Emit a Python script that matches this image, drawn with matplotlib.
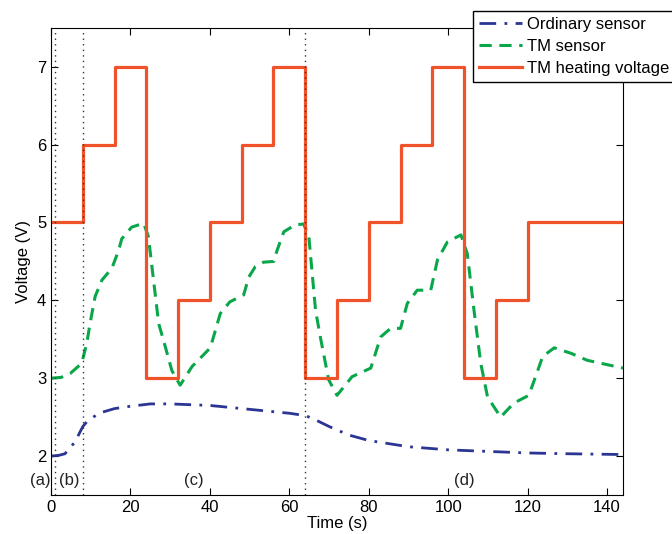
import matplotlib
matplotlib.use("Agg")
import matplotlib.pyplot as plt

plt.rcParams['font.family'] = ['Liberation Sans', 'DejaVu Sans']

# TM heating voltage (step levels, each held 8 s)
step_t = [0, 8, 16, 24, 32, 40, 48, 56, 64, 72, 80, 88, 96, 104, 112, 120, 144]
step_v = [5, 6, 7, 3, 4, 5, 6, 7, 3, 4, 5, 6, 7, 3, 4, 5, 5]

# TM sensor
tm_t = [0, 2.5, 4.8, 7.7, 9, 9.8, 11.1, 12.8, 15.3, 17, 17.8, 20.3, 23.3, 24.5, 25.8,
        27.1, 28.3, 30.4, 32.5, 35.5, 40.1, 42.6, 45, 48.5, 49.8, 51.4, 53.5, 56.1,
        56.9, 58.6, 61.5, 63.6, 64.9, 66.6, 67.8, 69.9, 72,
        75.8, 80.5, 83, 85.5, 88, 89.7, 92.2, 95.6, 97.3, 99.8, 103.2, 104.8, 106.5,
        108.2, 109.9, 113.2, 116.5, 120.3, 122, 123.8, 126.7, 130.9, 135, 142.2, 144]
tm_v = [3.0, 3.01, 3.06, 3.19, 3.45, 3.7, 4.05, 4.26, 4.41, 4.64, 4.79, 4.94, 4.99, 4.82, 4.26,
        3.7, 3.49, 3.1, 2.91, 3.15, 3.39, 3.83, 3.98, 4.07, 4.3, 4.43, 4.49, 4.5,
        4.64, 4.88, 4.97, 4.98, 4.82, 3.87, 3.53, 2.98, 2.78,
        3.02, 3.13, 3.53, 3.64, 3.64, 3.96, 4.13, 4.13, 4.52, 4.75, 4.84, 4.6, 3.87,
        3.19, 2.76, 2.5, 2.68, 2.78, 3.02, 3.28, 3.39, 3.32, 3.23, 3.15, 3.13]

# Ordinary sensor
ord_t = [0, 2, 3.5, 6, 8, 9, 12, 16, 20, 25, 30, 40, 50, 60, 64, 66, 70, 75, 80, 90,
         100, 110, 120, 130, 144]
ord_v = [2.0, 2.01, 2.03, 2.18, 2.38, 2.44, 2.55, 2.61, 2.64, 2.67, 2.67, 2.65, 2.6,
         2.55, 2.52, 2.48, 2.38, 2.27, 2.2, 2.12, 2.08, 2.06, 2.04, 2.03, 2.02]

marks = [1, 8, 64]
phase_labels = ['(a)', '(b)', '(c)', '(d)']
phase_x = [-2.6, 4.5, 36, 104]

fig = plt.figure(figsize=(6.72, 5.34), dpi=100)
ax = fig.add_axes([0.076, 0.073, 0.851, 0.875])

l1, = ax.plot(ord_t, ord_v, color='#2b3593', lw=2, dashes=(6, 3, 1, 3))
l2, = ax.plot(tm_t, tm_v, color='#0aa64a', lw=2.2, dashes=(4, 2.5))
l3, = ax.step(step_t, step_v, where='post', color='#f0522a', lw=2.3)

for m in marks:
    ax.axvline(m, color='#333333', lw=1, linestyle=(0, (1, 3)))

for lab, px in zip(phase_labels, phase_x):
    ax.text(px, 1.69, lab, ha='center', va='center', fontsize=12, color='#222222')

ax.set_xlim(0, 144)
ax.set_ylim(1.5, 7.5)
ax.set_xticks(range(0, 141, 20))
ax.set_yticks(range(2, 8))
ax.tick_params(direction='in', top=True, right=True, labelsize=12, length=5)
ax.set_xlabel('Time (s)', fontsize=12, labelpad=1)
ax.set_ylabel('Voltage (V)', fontsize=12)

fig.legend([l1, l2, l3], ['Ordinary sensor', 'TM sensor', 'TM heating voltage'],
           loc='upper left', bbox_to_anchor=(473 / 672, 1 - 11 / 534),
           fontsize=12, fancybox=False, edgecolor='black', framealpha=1,
           borderpad=0.35, labelspacing=0.42, handlelength=2.6, handletextpad=0.3,
           borderaxespad=0)

fig.savefig('out.png', dpi=100)
